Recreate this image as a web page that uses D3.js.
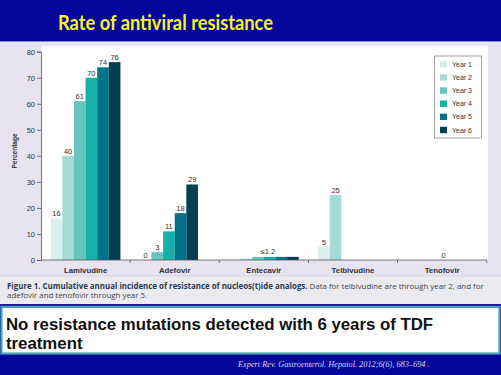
<!DOCTYPE html>
<html>
<head>
<meta charset="utf-8">
<script src="https://cdn.jsdelivr.net/npm/d3@7"></script>
<style>
  html, body { margin: 0; padding: 0; background: #05059a; }
  svg { display: block; }
</style>
</head>
<body>
<svg id="chart" width="501" height="375"></svg>
<script>
// ---------- data ----------
const categories = ["Lamivudine", "Adefovir", "Entecavir", "Telbivudine", "Tenofovir"];
const seriesNames = ["Year 1", "Year 2", "Year 3", "Year 4", "Year 5", "Year 6"];
const year1 = [16, null, 0.2, 5, 0];
const year2 = [40, 0, 0.5, 25, 0];
const year3 = [61, 3, 1.2, null, 0];
const year4 = [70, 11, 1.2, null, 0];
const year5 = [74, 18, 1.2, null, 0];
const year6 = [76, 29, 1.2, null, null];
const groupLabels = [null, null, "\u22641.2", null, "0"];
const yTicks = [0, 10, 20, 30, 40, 50, 60, 70, 80];
const seriesColors = ["#d9efed", "#a7dad6", "#66c5bf", "#13b1a7", "#02728a", "#033f53"];

const titleText = "Rate of antiviral resistance";
const captionBold = "Figure 1. Cumulative annual incidence of resistance of nucleos(t)ide analogs.";
const captionRest1 = " Data for telbivudine are through year 2, and for";
const captionLine2 = "adefovir and tenofovir through year 5.";
const messageLines = ["No resistance mutations detected with 6 years of TDF", "treatment"];
const citation = "Expert Rev. Gastroenterol. Hepatol. 2012;6(6), 683\u2013694 .";

const allSeries = [year1, year2, year3, year4, year5, year6];

// ---------- layout ----------
const svg = d3.select("#chart");
const W = 501, H = 375;

// backgrounds
svg.append("rect").attr("x", 0).attr("y", 0).attr("width", W).attr("height", H).attr("fill", "#05059a");
svg.append("rect").attr("x", 0).attr("y", 41).attr("width", W).attr("height", 1).attr("fill", "#8a8ad0");
svg.append("rect").attr("x", 0).attr("y", 42).attr("width", W).attr("height", 234).attr("fill", "#e7e3f1");
svg.append("rect").attr("x", 0).attr("y", 276).attr("width", W).attr("height", 28).attr("fill", "#ebebef");
svg.append("rect").attr("x", 0).attr("y", 275.5).attr("width", W).attr("height", 0.8).attr("fill", "#d0cfd8");

// title
svg.append("text").text(titleText)
  .attr("x", 58).attr("y", 30)
  .attr("font-family", "Lato, 'Open Sans', sans-serif")
  .attr("font-weight", "bold").attr("font-size", 21)
  .attr("textLength", 215).attr("lengthAdjust", "spacingAndGlyphs")
  .attr("fill", "#f4f425");

// plot area
const x0 = 41, x1 = 486.7, yTop = 51.7, yBase = 260;
svg.append("rect").attr("x", x0).attr("y", 46).attr("width", 488 - x0).attr("height", yBase - 46).attr("fill", "#ffffff");

const x = d3.scaleBand().domain(categories).range([x0, x1]).paddingInner(0).paddingOuter(0);
const slot = d3.scaleBand().domain(d3.range(6)).range([9.7, x.bandwidth() - 9.7]).padding(0);
const y = d3.scaleLinear().domain([0, 80]).range([yBase, yTop]);

// bars
const bars = [];
categories.forEach((c, ci) => {
  let k = 0;
  allSeries.forEach((s, si) => {
    const v = s[ci];
    if (v === null || v === undefined) return;
    bars.push({ cat: c, ci, si, slotIdx: k, value: v });
    k++;
  });
});

const g = svg.append("g");
g.selectAll("rect.bar").data(bars).join("rect")
  .attr("class", "bar")
  .attr("x", d => x(d.cat) + slot(d.slotIdx))
  .attr("width", slot.bandwidth())
  .attr("y", d => y(d.value))
  .attr("height", d => yBase - y(d.value))
  .attr("fill", d => seriesColors[d.si]);

// per-bar labels
g.selectAll("text.val").data(bars.filter(d => groupLabels[d.ci] === null)).join("text")
  .attr("class", "val")
  .attr("x", d => x(d.cat) + slot(d.slotIdx) + slot.bandwidth() / 2)
  .attr("y", d => y(d.value) - 2.2)
  .attr("text-anchor", "middle")
  .attr("font-family", "'Liberation Sans', Arial, sans-serif")
  .attr("font-size", 7.5).attr("fill", "#333")
  .text(d => d.value);

// group labels
g.selectAll("text.grp").data(categories.map((c, i) => ({ c, i, t: groupLabels[i] })).filter(d => d.t !== null)).join("text")
  .attr("class", "grp")
  .attr("x", d => x(d.c) + x.bandwidth() / 2 + (d.i === 2 ? 4 : 1.5))
  .attr("y", d => {
    const vals = allSeries.map(s => s[d.i]).filter(v => v !== null);
    return y(d3.max(vals)) - 2.5;
  })
  .attr("text-anchor", "middle")
  .attr("font-family", "'Liberation Sans', Arial, sans-serif")
  .attr("font-size", 7.5).attr("fill", "#333")
  .text(d => d.t);

// y axis
const yAxis = d3.axisLeft(y).tickValues(yTicks).tickSize(4).tickPadding(2);
const ya = svg.append("g").attr("transform", `translate(${x0},0)`).call(yAxis);
ya.select(".domain").attr("stroke", "#555").attr("stroke-width", 0.8);
ya.selectAll(".tick line").attr("stroke", "#555").attr("stroke-width", 0.8);
ya.selectAll(".tick text").attr("font-family", "'Liberation Sans', Arial, sans-serif")
  .attr("font-size", 7.5).attr("fill", "#333");

// x axis
const xa = svg.append("g").attr("transform", `translate(0,${yBase})`);
xa.append("line").attr("x1", x0).attr("x2", x1).attr("y1", 0).attr("y2", 0)
  .attr("stroke", "#555").attr("stroke-width", 0.8);
xa.selectAll("line.tk").data(categories).join("line")
  .attr("class", "tk")
  .attr("x1", d => x(d) + x.bandwidth()).attr("x2", d => x(d) + x.bandwidth())
  .attr("y1", 0).attr("y2", 3)
  .attr("stroke", "#555").attr("stroke-width", 0.8);
xa.selectAll("text.cat").data(categories).join("text")
  .attr("class", "cat")
  .attr("x", d => x(d) + x.bandwidth() / 2)
  .attr("y", 12.5)
  .attr("text-anchor", "middle")
  .attr("font-family", "'Liberation Sans', Arial, sans-serif")
  .attr("font-weight", "bold").attr("font-size", 7.8).attr("fill", "#333")
  .text(d => d);

// y title
svg.append("text").text("Percentage")
  .attr("transform", "translate(16.5,151) rotate(-90)")
  .attr("text-anchor", "middle")
  .attr("font-family", "'Liberation Sans', Arial, sans-serif")
  .attr("font-weight", "bold").attr("font-size", 6.5).attr("fill", "#333");

// legend
const lg = svg.append("g");
lg.append("rect").attr("x", 434.5).attr("y", 56).attr("width", 47).attr("height", 82)
  .attr("fill", "#fff").attr("stroke", "#8a8a8a").attr("stroke-width", 0.8);
const li = lg.selectAll("g.item").data(seriesNames).join("g")
  .attr("class", "item")
  .attr("transform", (d, i) => `translate(440,${64.3 + i * 13.14})`);
li.append("rect").attr("x", 0).attr("y", -3.2).attr("width", 7).attr("height", 6.4)
  .attr("fill", (d, i) => seriesColors[i]);
li.append("text").attr("x", 12).attr("y", 2.6)
  .attr("font-family", "'Liberation Sans', Arial, sans-serif")
  .attr("font-size", 7).attr("fill", "#333")
  .text(d => d);

// caption
const cap = svg.append("text").attr("x", 7).attr("y", 288.5)
  .attr("font-family", "'Open Sans', 'Noto Sans', sans-serif")
  .attr("font-size", 7.9).attr("fill", "#444");
cap.append("tspan").attr("font-weight", "bold").attr("fill", "#2a3a55").text(captionBold);
cap.append("tspan").text(captionRest1);
svg.append("text").attr("x", 7).attr("y", 298)
  .attr("font-family", "'Open Sans', 'Noto Sans', sans-serif")
  .attr("font-size", 7.9).attr("fill", "#444")
  .text(captionLine2);

// message box
svg.append("rect").attr("x", 0).attr("y", 304).attr("width", W).attr("height", 2.5).attr("fill", "#1a1a9a");
svg.append("rect").attr("x", 1.5).attr("y", 307).attr("width", W - 3).attr("height", 46.5)
  .attr("fill", "#ffffff").attr("stroke", "#4aa5b0").attr("stroke-width", 2.2);
svg.selectAll("text.msg").data(messageLines).join("text")
  .attr("class", "msg")
  .attr("x", 6).attr("y", (d, i) => 330 + i * 18.5)
  .attr("font-family", "'Liberation Sans', Arial, sans-serif")
  .attr("font-weight", "bold").attr("font-size", 16.8).attr("fill", "#111")
  .text(d => d);

// citation
svg.append("text").text(citation)
  .attr("x", 238).attr("y", 367)
  .attr("font-family", "'Liberation Serif', 'Times New Roman', serif")
  .attr("font-style", "italic").attr("font-size", 8.3).attr("fill", "#d8d8ee");
</script>
</body>
</html>
